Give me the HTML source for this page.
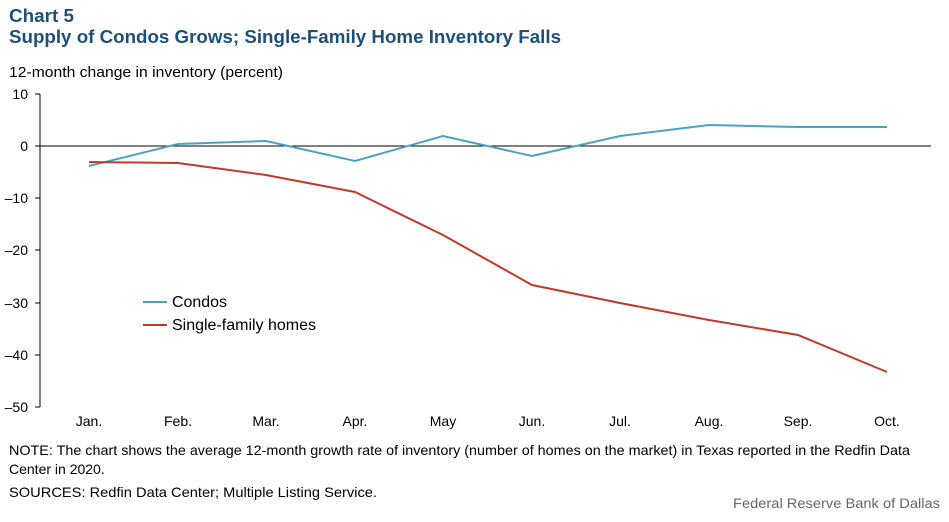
<!DOCTYPE html>
<html><head><style>
body{margin:0;width:949px;height:517px;background:#fff;overflow:hidden;font-family:"Liberation Sans",Arial,sans-serif}
</style></head><body>
<svg width="949" height="517" xmlns="http://www.w3.org/2000/svg" font-family="Liberation Sans, Arial, sans-serif">
<text x="9" y="22" font-size="18.5" font-weight="bold" fill="#1f4e79" textLength="65" lengthAdjust="spacingAndGlyphs">Chart 5</text>
<text x="9" y="43" font-size="18.5" font-weight="bold" fill="#1f4e79" textLength="552" lengthAdjust="spacingAndGlyphs">Supply of Condos Grows; Single-Family Home Inventory Falls</text>
<text x="9" y="77" font-size="15" fill="#000" textLength="274" lengthAdjust="spacingAndGlyphs">12-month change in inventory  (percent)</text>
<g font-size="14" fill="#000" text-anchor="end">
<text x="28" y="99">10</text><text x="28" y="151">0</text><text x="28" y="203">–10</text>
<text x="28" y="255">–20</text><text x="28" y="308">–30</text><text x="28" y="360">–40</text><text x="28" y="412">–50</text>
</g>
<line x1="40" y1="94" x2="40" y2="407" stroke="#000" stroke-width="1"/>
<g stroke="#000"><line x1="35" y1="94" x2="40" y2="94"/><line x1="35" y1="146" x2="40" y2="146"/><line x1="35" y1="198" x2="40" y2="198"/><line x1="35" y1="250" x2="40" y2="250"/><line x1="35" y1="303" x2="40" y2="303"/><line x1="35" y1="355" x2="40" y2="355"/><line x1="35" y1="407" x2="40" y2="407"/></g>
<line x1="40" y1="146" x2="931" y2="146" stroke="#000" stroke-width="1"/>
<g font-size="14" fill="#000" text-anchor="middle">
<text x="89" y="426">Jan.</text><text x="178" y="426">Feb.</text><text x="266" y="426">Mar.</text><text x="355" y="426">Apr.</text><text x="443" y="426">May</text><text x="532" y="426">Jun.</text><text x="620" y="426">Jul.</text><text x="709" y="426">Aug.</text><text x="798" y="426">Sep.</text><text x="887" y="426">Oct.</text>
</g>
<polyline fill="none" stroke="#4ba3c3" stroke-width="2" points="89,166 178,144 266,141 355,161 443,136 532,156 620,136 709,125 798,127 887,127"/>
<polyline fill="none" stroke="#c0392b" stroke-width="2" points="89,162 178,163 266,175 355,192 443,235 532,285 620,303 709,320 798,335 887,372"/>
<line x1="143" y1="302" x2="167" y2="302" stroke="#4ba3c3" stroke-width="2"/>
<text x="172" y="307" font-size="15.5" textLength="55" lengthAdjust="spacingAndGlyphs">Condos</text>
<line x1="143" y1="325" x2="167" y2="325" stroke="#c0392b" stroke-width="2"/>
<text x="172" y="330" font-size="15.5" textLength="144" lengthAdjust="spacingAndGlyphs">Single-family homes</text>
<text x="9" y="455" font-size="14" textLength="901" lengthAdjust="spacingAndGlyphs">NOTE: The chart shows the average 12-month growth rate of inventory  (number of homes on the market) in Texas reported in the Redfin Data</text>
<text x="9" y="474" font-size="14">Center in 2020.</text>
<text x="9" y="497" font-size="14" textLength="368" lengthAdjust="spacingAndGlyphs">SOURCES: Redfin Data Center; Multiple  Listing Service.</text>
<text x="940" y="508" font-size="14" fill="#666" text-anchor="end" textLength="207" lengthAdjust="spacingAndGlyphs">Federal Reserve Bank of Dallas</text>
</svg>
</body></html>
